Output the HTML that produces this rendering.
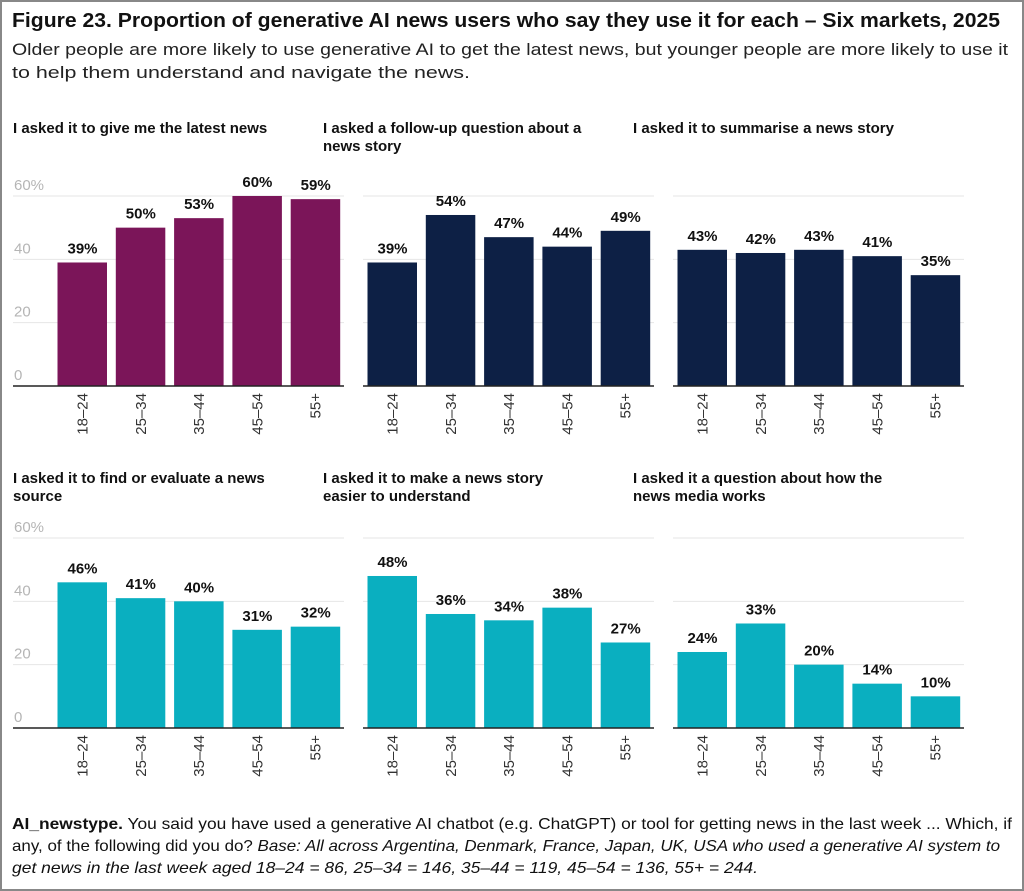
<!DOCTYPE html>
<html><head><meta charset="utf-8"><style>
body{margin:0;background:#fff;}
svg{display:block;font-family:"Liberation Sans",sans-serif;}
</style></head><body>
<svg id="c" width="1024" height="891" viewBox="0 0 1024 891">
<rect x="1" y="1" width="1022" height="889" fill="#fff" stroke="#888" stroke-width="2"/>
<text x="12" y="27" font-size="20" font-weight="bold" fill="#111" textLength="988" lengthAdjust="spacingAndGlyphs">Figure 23. Proportion of generative AI news users who say they use it for each – Six markets, 2025</text>
<text x="12" y="55" font-size="17" fill="#222" textLength="996" lengthAdjust="spacingAndGlyphs">Older people are more likely to use generative AI to get the latest news, but younger people are more likely to use it</text>
<text x="12" y="78" font-size="17" fill="#222" textLength="458" lengthAdjust="spacingAndGlyphs">to help them understand and navigate the news.</text>
<g id="panels"></g>
<text x="12" y="829" font-size="16" fill="#111" textLength="1000" lengthAdjust="spacingAndGlyphs"><tspan font-weight="bold">AI_newstype.</tspan> You said you have used a generative AI chatbot (e.g. ChatGPT) or tool for getting news in the last week ... Which, if</text>
<text x="12" y="851" font-size="16" fill="#111" textLength="988" lengthAdjust="spacingAndGlyphs">any, of the following did you do? <tspan font-style="italic">Base: All across Argentina, Denmark, France, Japan, UK, USA who used a generative AI system to</tspan></text>
<text x="12" y="873" font-size="16" fill="#111" font-style="italic" textLength="746" lengthAdjust="spacingAndGlyphs">get news in the last week aged 18–24 = 86, 25–34 = 146, 35–44 = 119, 45–54 = 136, 55+ = 244.</text>
</svg>
<script>
const categories = ["18–24","25–34","35–44","45–54","55+"];
const panelTitles = [
 ["I asked it to give me the latest news"],
 ["I asked a follow-up question about a","news story"],
 ["I asked it to summarise a news story"],
 ["I asked it to find or evaluate a news","source"],
 ["I asked it to make a news story","easier to understand"],
 ["I asked it a question about how the","news media works"]
];
const latestNews = [39,50,53,60,59];
const followUp = [39,54,47,44,49];
const summarise = [43,42,43,41,35];
const evaluateSource = [46,41,40,31,32];
const easierUnderstand = [48,36,34,38,27];
const mediaWorks = [24,33,20,14,10];
const seriesList = [latestNews,followUp,summarise,evaluateSource,easierUnderstand,mediaWorks];
const colors = ["#7b1559","#0d2045","#0d2045","#0aafc0","#0aafc0","#0aafc0"];
const ticks = [0,20,40,60];

const NS="http://www.w3.org/2000/svg";
const g=document.getElementById('panels');
function mk(tag,attrs,parent){const e=document.createElementNS(NS,tag);for(const k in attrs)e.setAttribute(k,attrs[k]);(parent||g).appendChild(e);return e;}
const pxPer=3.167;
seriesList.forEach((vals,p)=>{
  const col=p%3, ox=col*310, row=Math.floor(p/3);
  const y0=row?728:386, ty=row?478:128;
  const axStart=col===0?ox+13:ox+53;
  const pg=mk('g',{});
  
  
  const yScale=v=>y0-v*pxPer;
  const xScale=i=>ox+57.5+i*58.3;
  panelTitles[p].forEach((t,li)=>{
    const tt=mk('text',{x:ox+13,y:ty+5+li*18,'font-size':15,'font-weight':'bold',fill:'#111'},pg);
    tt.textContent=t;
    
    
  });
  ticks.forEach(t=>{
    if(t>0){const gl=mk('line',{x1:axStart,x2:ox+344,y1:yScale(t),y2:yScale(t),stroke:'#e6e6e6','stroke-width':1},pg);
      
      }
    if(col===0){
      const tl=mk('text',{x:ox+14,y:yScale(t)-6,'font-size':15,fill:'#b5b5b5'},pg);
      tl.textContent=(t===60?'60%':String(t));
      
      
    }
  });
  vals.forEach((v,i)=>{
    const b=mk('rect',{x:xScale(i),y:yScale(v),width:49.5,height:v*pxPer,fill:colors[p]},pg);
    
    
    const vl=mk('text',{x:xScale(i)+25,y:yScale(v)-9,'font-size':15,'font-weight':'bold',fill:'#111','text-anchor':'middle'},pg);
    vl.textContent=v+'%';
    
    
    const cx=xScale(i)+30;
    const xl=mk('text',{x:0,y:0,'font-size':15,fill:'#333','text-anchor':'end',transform:`translate(${cx},${y0+7}) rotate(-90)`},pg);
    xl.textContent=categories[i];
    
    
  });
  const ax=mk('line',{x1:axStart,x2:ox+344,y1:y0,y2:y0,stroke:'#222','stroke-width':1.5},pg);
  
  
});
</script>
</body></html>
